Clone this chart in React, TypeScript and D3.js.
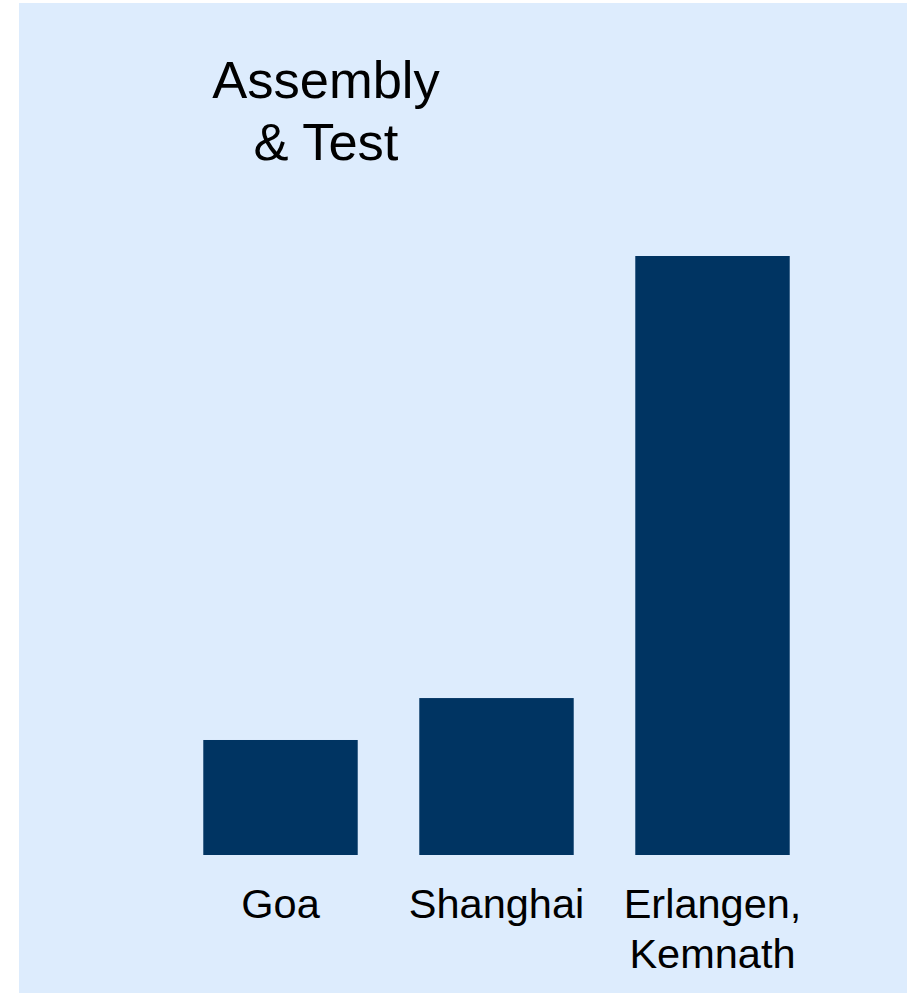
import React from "react";
import * as d3 from "d3";

const sites = ["Goa", "Shanghai", "Erlangen, Kemnath"];
const siteLines = [["Goa"], ["Shanghai"], ["Erlangen,", "Kemnath"]];
const capacity = [19.2, 26.2, 100];
const titleLines = ["Assembly", "& Test"];

const W = 907;
const H = 993;
const BG = "#DDECFD";
const BAR = "#003462";
const FONT = "'Liberation Sans', Arial, Helvetica, sans-serif";

export default function App() {
  const x = d3
    .scaleBand<string>()
    .domain(sites)
    .range([172.5, 820.5])
    .paddingInner(0.285)
    .paddingOuter(0.1425);
  const y = d3.scaleLinear().domain([0, 100]).range([855, 256]);

  return (
    <div style={{ position: "absolute", left: 0, top: 0 }}>
      <svg width={W} height={H} style={{ display: "block" }}>
        <rect x={19} y={3} width={W - 19} height={H - 3} fill={BG} />
        <g fontFamily={FONT} fill="#000" textAnchor="middle">
          {titleLines.map((t, i) => (
            <text key={t} x={326} y={98 + i * 62} fontSize={52.5}>
              {t}
            </text>
          ))}
        </g>
        {sites.map((s, i) => (
          <rect
            key={s}
            x={x(s)}
            y={y(capacity[i])}
            width={x.bandwidth()}
            height={y(0) - y(capacity[i])}
            fill={BAR}
          />
        ))}
        <g fontFamily={FONT} fill="#000" textAnchor="middle" fontSize={41.5}>
          {sites.map((s, i) =>
            siteLines[i].map((line, j) => (
              <text key={s + j} x={(x(s) ?? 0) + x.bandwidth() / 2} y={918 + j * 50}>
                {line}
              </text>
            ))
          )}
        </g>
      </svg>
    </div>
  );
}
